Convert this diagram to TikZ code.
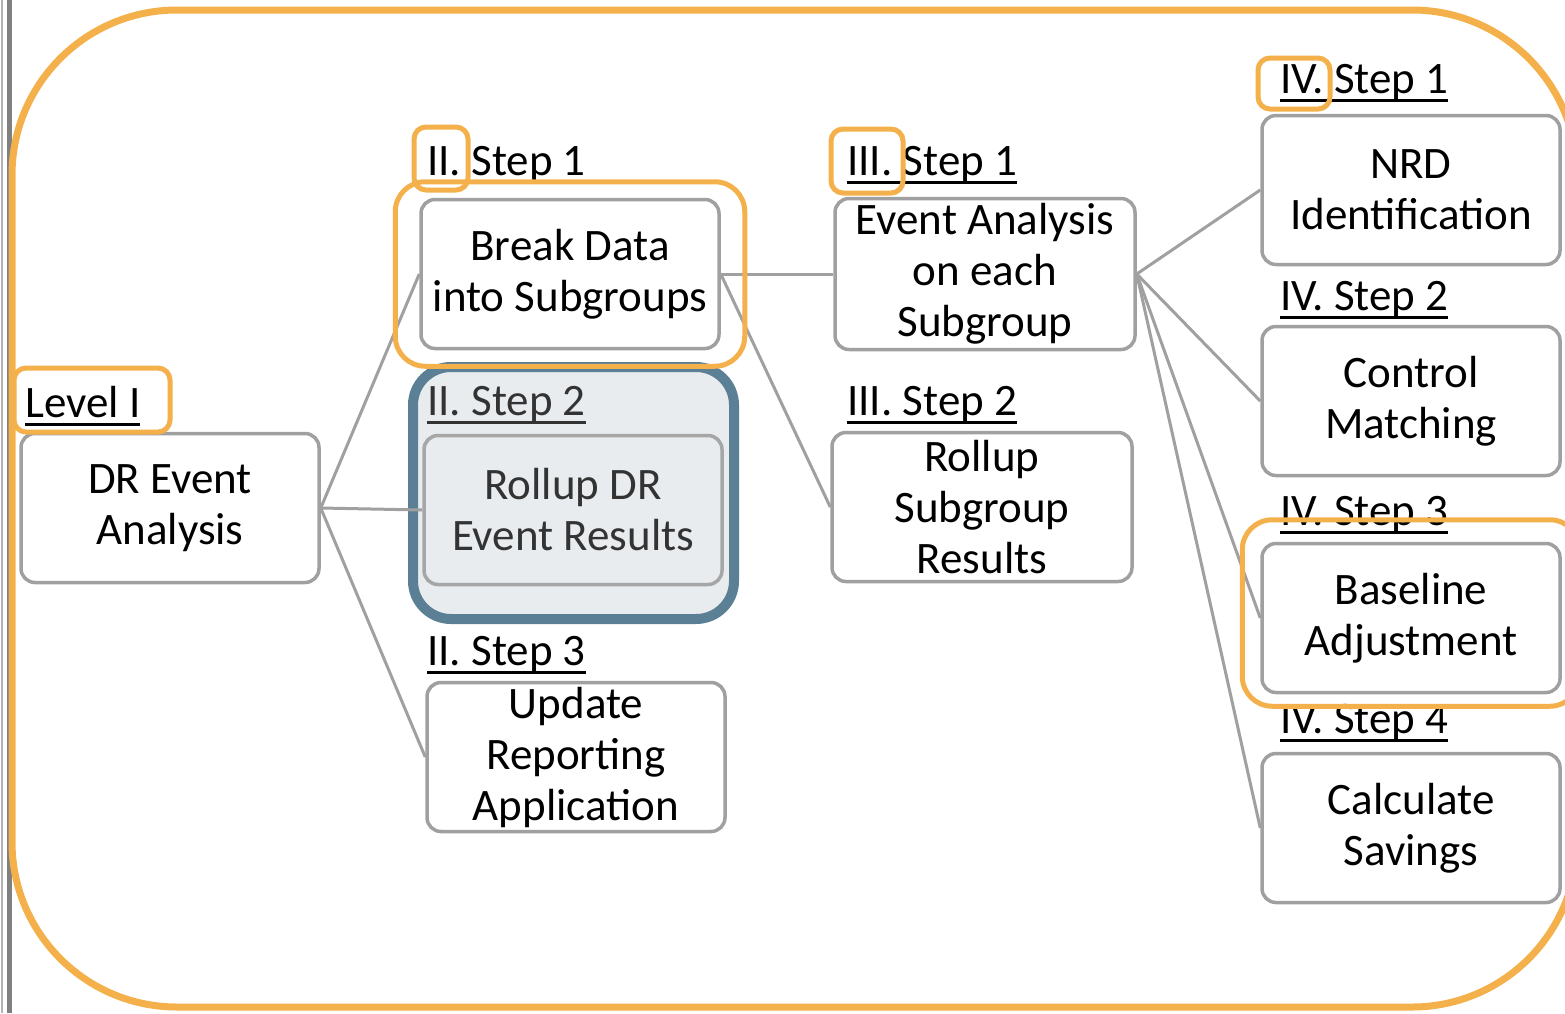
\documentclass[tikz,border=0pt]{standalone}
\usepackage{fontspec}
\setmainfont{Carlito}
\usetikzlibrary{fit}

\definecolor{hlorange}{HTML}{F4B04A}
\definecolor{boxgray}{HTML}{A0A0A0}
\definecolor{slate}{HTML}{5B7F95}
\definecolor{paleslate}{HTML}{E8ECEF}

\newcommand{\steplbl}[1]{\setbox0\hbox{#1}\rlap{\rule[-9pt]{\wd0}{2.6pt}}\box0}

\tikzset{
  stepbox/.style={draw=boxgray, line width=3.5pt, rounded corners=14pt, fill=white,
    minimum width=298pt, minimum height=149pt, align=center, inner sep=0pt,
    font=\fontsize{45}{51}\selectfont},
  lbl/.style={anchor=base west, inner sep=0pt, font=\fontsize{45}{48}\selectfont},
  conn/.style={draw=boxgray, line width=3pt},
  hl/.style={draw=hlorange, line width=5pt, rounded corners=12pt}
}

\begin{document}
\begin{tikzpicture}[x=1pt, y=-1pt]
\useasboundingbox (0,0) rectangle (1565,1013);
\clip (0,0) rectangle (1565,1013);

% page edge
\draw[gray!60, line width=2pt] (2,0) -- (2,1013);
\draw[gray, line width=5pt] (9,0) -- (9,1013);

% outer frame
\draw[hlorange, line width=7pt, rounded corners=165pt] (12,10) rectangle (1577,1007);

% focus on level II step 2
\draw[slate, fill=paleslate, line width=10pt, rounded corners=38pt] (413,367) rectangle (734,619);

% boxes
\node[stepbox] (dr) at (170,508) {DR Event\\Analysis};
\node[stepbox] (brk) at (570,274) {Break Data\\into Subgroups};
\node[stepbox, fill=paleslate, draw=gray!70, text=black!80] (rollup) at (573,510) {Rollup DR\\Event Results};
\node[stepbox] (upd) at (576,757) {Update\\Reporting\\Application};
\node[stepbox, minimum width=300pt, minimum height=151pt] (evt) at (985,274) {Event Analysis\\on each\\Subgroup};
\node[stepbox, minimum width=300pt] (rsub) at (982,507) {Rollup\\Subgroup\\Results};
\node[stepbox] (nrd) at (1411,190) {NRD\\Identification};
\node[stepbox] (ctl) at (1411,401) {Control\\Matching};
\node[stepbox] (base) at (1411,618) {Baseline\\Adjustment};
\node[stepbox] (calc) at (1411,828) {Calculate\\Savings};

% labels
\node[lbl] (lvl) at (25,417) {\steplbl{Level I}};
\node[lbl] (s21) at (427,175) {\steplbl{II. Step 1}};
\node[lbl, text=black!80] (s22) at (427,415) {\steplbl{II. Step 2}};
\node[lbl] (s23) at (427,665) {\steplbl{II. Step 3}};
\node[lbl] (s31) at (847,175) {\steplbl{III. Step 1}};
\node[lbl] (s32) at (847,415) {\steplbl{III. Step 2}};
\node[lbl] (s41) at (1280,93) {\steplbl{IV. Step 1}};
\node[lbl] (s42) at (1280,310) {\steplbl{IV. Step 2}};
\node[lbl] (s43) at (1280,525) {\steplbl{IV. Step 3}};
\node[lbl] (s44) at (1280,733) {\steplbl{IV. Step 4}};

% connectors
\draw[conn] (dr.east) -- (brk.west);
\draw[conn] (dr.east) -- (rollup.west);
\draw[conn] (dr.east) -- (upd.west);
\draw[conn] (brk.east) -- (evt.west);
\draw[conn] (brk.east) -- (rsub.west);
\foreach \n in {nrd,ctl,base,calc}
  \draw[conn] (evt.east) -- (\n.west);

% orange marks
\draw[hl] (14,368) rectangle (170,432);
\draw[hl] (414,127) rectangle (468,190);
\draw[hl] (831,129) rectangle (903,193);
\draw[hl] (1258,58) rectangle (1330,109);
\node[hl, rounded corners=30pt, fit=(brk), inner xsep=24pt, inner ysep=16pt] (brkmark) {};
\draw[hl, rounded corners=30pt] ([shift={(-18,-22)}]base.north west) rectangle ([shift={(18,12)}]base.south east);
\end{tikzpicture}
\end{document}
